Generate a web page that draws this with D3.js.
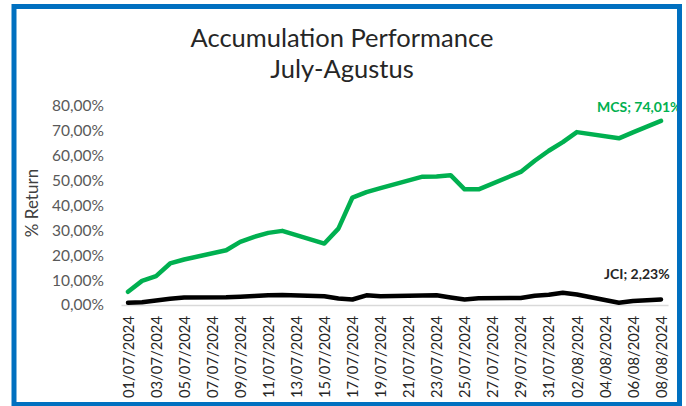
<!DOCTYPE html>
<html>
<head>
<meta charset="utf-8">
<script src="https://cdn.jsdelivr.net/npm/d3@7"></script>
<style>
  body { margin: 0; background: #fff; }
  text { font-family: Lato, "Open Sans", sans-serif; }
</style>
</head>
<body>
<div id="chart"></div>
<script>
// accumulated return, July - August 2024 (trading days only)
const dates = ["01/07/2024","02/07/2024","03/07/2024","04/07/2024","05/07/2024",
  "08/07/2024","09/07/2024","10/07/2024","11/07/2024","12/07/2024",
  "15/07/2024","16/07/2024","17/07/2024","18/07/2024","19/07/2024",
  "22/07/2024","23/07/2024","24/07/2024","25/07/2024","26/07/2024",
  "29/07/2024","30/07/2024","31/07/2024","01/08/2024","02/08/2024",
  "05/08/2024","06/08/2024","07/08/2024","08/08/2024"];

const mcs = [5.3, 9.7, 11.6, 16.7, 18.3,
  22.0, 25.4, 27.4, 29.0, 29.8,
  24.7, 30.7, 43.2, 45.4, 47.0,
  51.6, 51.7, 52.2, 46.5, 46.5,
  53.5, 58.0, 62.0, 65.5, 69.5,
  67.0, 69.4, 71.7, 74.01];

const jci = [0.9, 1.1, 1.8, 2.5, 3.0,
  3.1, 3.3, 3.6, 3.9, 4.0,
  3.5, 2.6, 2.2, 3.9, 3.5,
  3.8, 3.9, 3.0, 2.2, 2.7,
  2.8, 3.7, 4.1, 4.9, 4.2,
  0.9, 1.6, 1.9, 2.23];

const yTicks = [0, 10, 20, 30, 40, 50, 60, 70, 80];

const width = 686, height = 406;
const parse = d3.timeParse("%d/%m/%Y");
const fmtDate = d3.timeFormat("%d/%m/%Y");
const fmtPct = v => d3.format(".2f")(v).replace(".", ",") + "%";

const days = dates.map(parse);
const first = days[0], last = days[days.length - 1];

const x = d3.scaleTime()
  .domain([d3.timeHour.offset(first, -12), d3.timeHour.offset(last, 12)])
  .range([121, 668]);
const y = d3.scaleLinear().domain([0, 80]).range([305, 106]);

const svg = d3.select("#chart").append("svg")
  .attr("width", width)
  .attr("height", height);

// title
svg.append("g")
  .attr("text-anchor", "middle")
  .attr("font-size", 25.5)
  .attr("fill", "#262626")
  .selectAll("text")
  .data(["Accumulation Performance", "July-Agustus"])
  .join("text")
  .attr("x", 342)
  .attr("y", (d, i) => 47 + i * 31)
  .text(d => d);

// y axis (labels only)
const yAxis = svg.append("g")
  .attr("transform", "translate(121,0)")
  .call(d3.axisLeft(y).tickValues(yTicks).tickFormat(fmtPct).tickSize(0).tickPadding(17));
yAxis.select(".domain").remove();
yAxis.selectAll("text").attr("font-size", 15.5).attr("fill", "#595959")
  .style("font-family", "Lato, sans-serif");

svg.append("text")
  .attr("transform", "translate(38,203) rotate(-90)")
  .attr("text-anchor", "middle")
  .attr("font-size", 17)
  .attr("fill", "#404040")
  .text("% Return");

// x axis, a label every second calendar day
const xTicks = d3.timeDay.range(first, d3.timeDay.offset(last, 1), 2);
const xAxis = svg.append("g")
  .attr("transform", `translate(0,${y(0)})`)
  .call(d3.axisBottom(x).tickValues(xTicks).tickFormat(fmtDate).tickSize(0).tickPadding(0));
xAxis.select(".domain").attr("stroke", "#d9d9d9").attr("stroke-width", 1.5);
xAxis.selectAll("text")
  .attr("font-size", 14.8)
  .attr("fill", "#262626")
  .style("font-family", "Lato, sans-serif")
  .attr("text-anchor", "end")
  .attr("dy", "0.35em")
  .attr("transform", "translate(0,11) rotate(-90)")
  .attr("x", 0).attr("y", 0);

// lines
const series = [
  { name: "MCS", values: mcs, color: "#00b050", dy: -9 },
  { name: "JCI", values: jci, color: "#000000", dy: -20 }
];
const line = d3.line()
  .x((d, i) => x(days[i]))
  .y(d => y(d));

svg.append("g")
  .attr("fill", "none")
  .attr("stroke-width", 4.5)
  .attr("stroke-linejoin", "round")
  .attr("stroke-linecap", "round")
  .selectAll("path")
  .data(series)
  .join("path")
  .attr("stroke", d => d.color)
  .attr("d", d => line(d.values));

// end labels
svg.append("g")
  .attr("font-size", 14)
  .attr("font-weight", "bold")
  .selectAll("text")
  .data(series)
  .join("text")
  .attr("x", d => x(last) - (d.name === "MCS" ? 64 : 57))
  .attr("y", d => y(d.values[d.values.length - 1]) + d.dy)
  .attr("fill", d => d.name === "MCS" ? "#00b050" : "#262626")
  .text(d => `${d.name}; ${fmtPct(d.values[d.values.length - 1])}`);

// frame
svg.append("rect")
  .attr("x", 682).attr("y", 0).attr("width", 4).attr("height", height)
  .attr("fill", "#fff");
svg.append("rect")
  .attr("x", 14).attr("y", 6.5)
  .attr("width", 665.5).attr("height", 398)
  .attr("fill", "none")
  .attr("stroke", "#0070c0")
  .attr("stroke-width", 5);
</script>
</body>
</html>
